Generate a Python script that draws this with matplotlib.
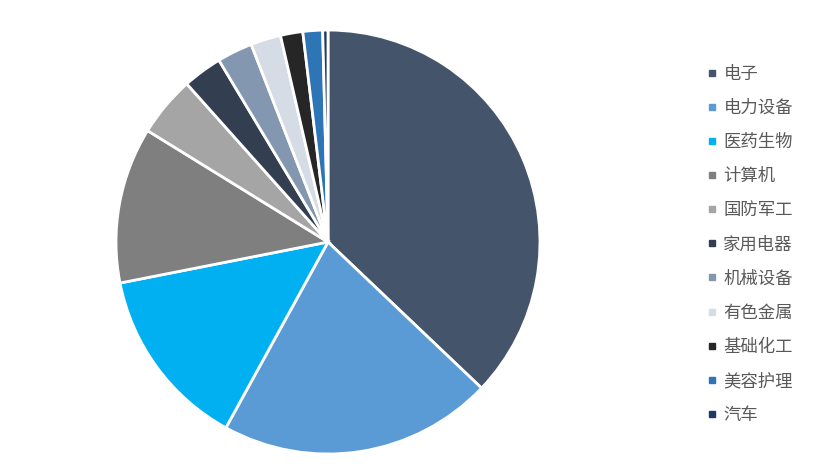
import matplotlib
matplotlib.use('Agg')
import matplotlib.pyplot as plt
from matplotlib.lines import Line2D

plt.rcParams['font.family'] = ['Noto Sans CJK SC', 'DejaVu Sans']

labels = ['电子', '电力设备', '医药生物', '计算机', '国防军工', '家用电器',
          '机械设备', '有色金属', '基础化工', '美容护理', '汽车']
shares = [37.1, 20.9, 13.9, 11.9, 4.6, 3.0, 2.7, 2.3, 1.7, 1.5, 0.4]
colors = ['#44546A', '#5B9BD5', '#00B0F0', '#7F7F7F', '#A5A5A5', '#333F50',
          '#8497B0', '#D6DCE5', '#262626', '#2E75B6', '#203864']

fig = plt.figure(figsize=(8.21, 4.75), dpi=100)
ax = fig.add_axes([0.1413, 0.0442, 0.5164, 0.8926])
ax.pie(shares, colors=colors, startangle=90, counterclock=False,
       wedgeprops=dict(edgecolor='white', linewidth=2))
ax.set_xlim(-1, 1)
ax.set_ylim(-1, 1)
ax.set_aspect('equal')

handles = [Line2D([], [], marker='s', linestyle='', color=c, markersize=5) for c in colors]
leg = fig.legend(handles, labels, loc='upper left', bbox_to_anchor=(0.861, 0.864),
                 frameon=False, fontsize=12.5, labelspacing=0.93, handlelength=0.6,
                 handletextpad=0.35, borderaxespad=0, borderpad=0)
for t in leg.get_texts():
    t.set_color('#595959')

fig.savefig('out.png', dpi=100)
